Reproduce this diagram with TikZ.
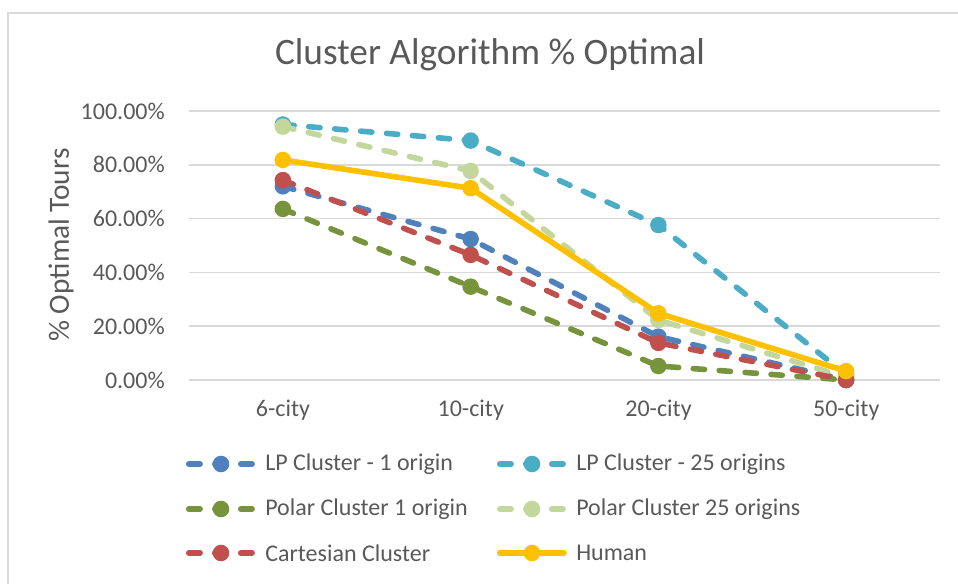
\documentclass[tikz,border=0pt]{standalone}
\usepackage{fontspec}
\setmainfont{Carlito}
\usepackage{tikz}
\usetikzlibrary{positioning}

\definecolor{txtgray}{HTML}{595959}
\definecolor{gridgray}{HTML}{D9D9D9}
\definecolor{lpone}{HTML}{4F81BD}
\definecolor{lpmany}{HTML}{4BACC6}
\definecolor{polarone}{HTML}{77933C}
\definecolor{polarmany}{HTML}{C3D69B}
\definecolor{cartcol}{HTML}{C0504D}
\definecolor{humancol}{HTML}{FFC000}

\begin{document}
\begin{tikzpicture}[
  x=0.75pt, y=-0.75pt,
  lbl/.style={text=txtgray, font=\fontsize{18}{20}\selectfont, inner sep=0pt},
  gridln/.style={gridgray, line width=1.3pt},
  series/.style={line width=4.2pt, line cap=round, line join=round},
  dashser/.style={series, dash pattern=on 8.5pt off 11pt}
]
\useasboundingbox (0,0) rectangle (958,584);
\draw[gridgray, line width=1.5pt] (8,584) |- (958,13);

\node[lbl, font=\fontsize{28}{30}\selectfont] (title) at (490,55) {Cluster Algorithm \% Optimal};

% value axis and grid
\foreach \v in {0,20,...,100} {
  \draw[gridln] (189,{380-2.69*\v}) -- (940,{380-2.69*\v});
  \node[lbl, anchor=east] (ylab\v) at (165,{380-2.69*\v}) {\v.00\%};
}
\node[lbl, rotate=90, font=\fontsize{22}{24}\selectfont] (ytitle) at (61,245) {\% Optimal Tours};

% categories
\foreach \c [count=\i] in {6-city,10-city,20-city,50-city}
  \node[lbl] (xlab\i) at ({283+187.75*(\i-1)},410) {\c};

% series
\begin{scope}[shift={(189,380)}, x={(187.75,0)}, y={(0,-2.69)}]
\foreach \col/\sty/\a/\b/\c/\d in {
    lpone/dashser/72/52.4/16.1/0,
    lpmany/dashser/95/89/57.6/2,
    polarone/dashser/63.6/34.7/5.2/0,
    polarmany/dashser/94.2/77.7/22.3/1,
    cartcol/dashser/74.3/46.5/13.8/0,
    humancol/series/81.8/71.3/24.8/3.3} {
  \draw[\sty, \col] (0.5,\a) -- (1.5,\b) -- (2.5,\c) -- (3.5,\d);
  \foreach \v [count=\i] in {\a,\b,\c,\d}
    \fill[\col] (\i-0.5,\v) circle (6.2pt);
}
\end{scope}

% legend
\foreach \col/\sty/\txt/\lx/\ly [count=\k] in {
    lpone/dashser/LP Cluster - 1 origin/186/464,
    lpmany/dashser/LP Cluster - 25 origins/497/464,
    polarone/dashser/Polar Cluster 1 origin/186/509,
    polarmany/dashser/Polar Cluster 25 origins/497/509,
    cartcol/dashser/Cartesian Cluster/186/553,
    humancol/series/Human/497/553} {
  \draw[\sty, \col] (\lx+2.8,\ly) -- (\lx+67,\ly);
  \fill[\col] (\lx+35,\ly) circle (6.2pt);
  \node[lbl, anchor=west] (leg\k) at (\lx+79,\ly) {\txt};
}
\end{tikzpicture}
\end{document}
